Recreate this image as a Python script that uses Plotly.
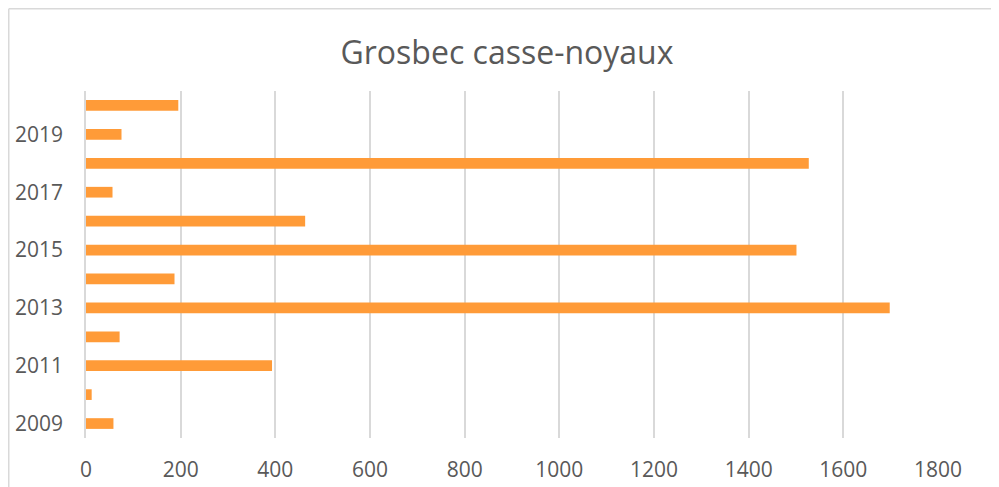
import plotly.graph_objects as go

years = ["2009", "2010", "2011", "2012", "2013", "2014", "2015", "2016", "2017", "2018", "2019", "2020"]
counts = [58, 12, 393, 71, 1698, 187, 1501, 463, 56, 1527, 75, 195]
year_ticks = ["2009", "2011", "2013", "2015", "2017", "2019"]
x_ticks = [0, 200, 400, 600, 800, 1000, 1200, 1400, 1600, 1800]

# the page body has an 8px margin, so the figure is drawn 8px smaller
OFF = 8
W, H = 999 - OFF, 487 - OFF
L, T = 86 - OFF, 91 - OFF
R = W - (938 - OFF)
B = H - (438 - OFF)
pw, ph = W - L - R, H - T - B

def px_to_paper_x(fx):
    return (fx - L) / pw

def px_to_paper_y(fy):
    return (H - B - fy) / ph

fig = go.Figure(go.Bar(
    x=counts, y=years, orientation="h",
    marker=dict(color="#FF9B38", line=dict(width=0)),
))

border = "#D9D9D9"
fig.add_shape(type="line", xref="paper", yref="paper",
              x0=px_to_paper_x(0.75), x1=px_to_paper_x(W + 5),
              y0=px_to_paper_y(0.75), y1=px_to_paper_y(0.75),
              line=dict(color=border, width=1.5))
fig.add_shape(type="line", xref="paper", yref="paper",
              x0=px_to_paper_x(0.75), x1=px_to_paper_x(0.75),
              y0=px_to_paper_y(0.75), y1=px_to_paper_y(H + 5),
              line=dict(color=border, width=1.5))

fig.update_layout(
    width=W, height=H,
    margin=dict(l=L, r=R, t=T, b=B, autoexpand=False),
    paper_bgcolor="white", plot_bgcolor="white",
    bargap=0.63,
    showlegend=False,
    title=dict(text="Grosbec casse-noyaux", x=(507 - OFF) / W, xref="container", xanchor="center",
               y=1 - (53 - OFF) / H, yref="container", yanchor="middle",
               font=dict(family="Open Sans", size=32, color="#595959")),
    font=dict(family="Open Sans", color="#595959"),
    xaxis=dict(range=[0, 1800], tickvals=x_ticks, showgrid=True,
               gridcolor="#D9D9D9", gridwidth=1.5, zeroline=False, automargin=False,
               showline=False, ticks="", tickfont=dict(size=21, color="#595959"),
               ticklabelstandoff=17, fixedrange=True),
    yaxis=dict(type="category", categoryorder="array", categoryarray=years,
               tickvals=year_ticks, showgrid=False, zeroline=False, automargin=False,
               showline=True, linecolor="#D9D9D9", linewidth=1.5, ticks="",
               tickfont=dict(size=21, color="#595959"),
               ticklabelstandoff=17, range=[-0.5, 11.5]),
)

fig.write_html("out.html")
